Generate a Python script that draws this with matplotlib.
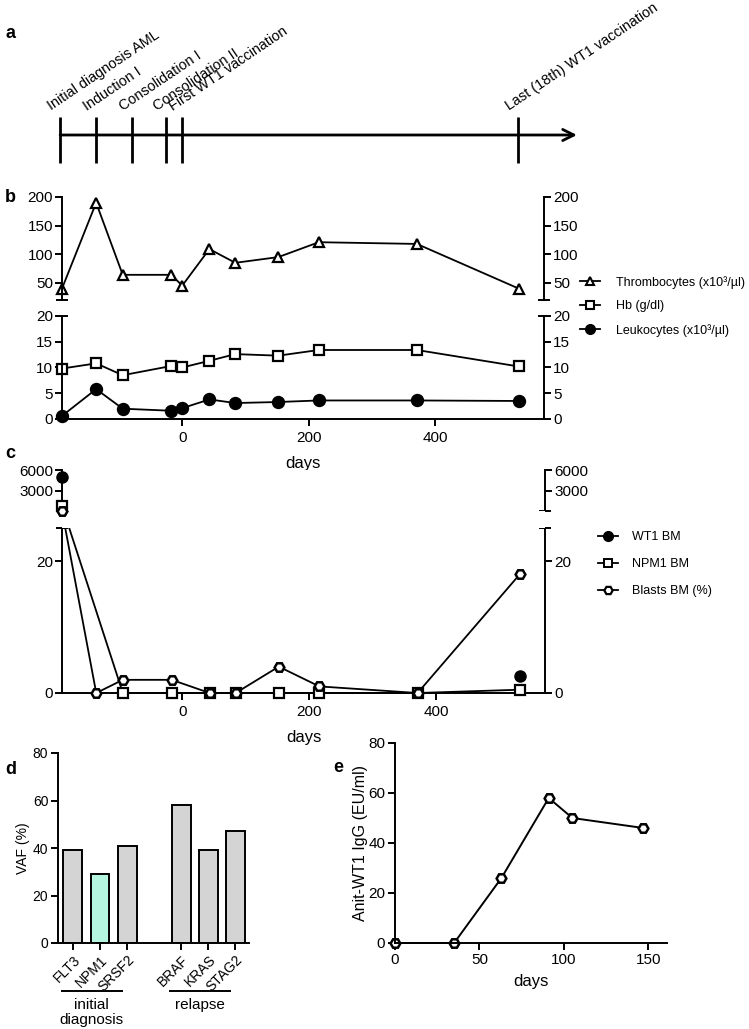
import numpy as np
import matplotlib
matplotlib.use('Agg')
import matplotlib.pyplot as plt
from matplotlib.lines import Line2D
import matplotlib.transforms as mtransforms

plt.rcParams['font.family'] = ['Liberation Sans', 'DejaVu Sans']

# ---------------- data ----------------
events = ["Initial diagnosis AML", "Induction I", "Consolidation I",
          "Consolidation II", "First WT1 vaccination", "Last (18th) WT1 vaccination"]
event_days = [-193, -136, -79, -25, 0, 531]

days_b = [-190, -136, -94, -17, 0, 43, 84, 152, 216, 371, 532]
thrombocytes = [40, 190, 64, 64, 45, 109, 85, 95, 121, 118, 40]
hb = [9.8, 10.8, 8.5, 10.3, 10.0, 11.3, 12.6, 12.3, 13.4, 13.4, 10.2]
leukocytes = [0.6, 5.8, 2.0, 1.6, 2.1, 3.8, 3.1, 3.3, 3.6, 3.6, 3.5]

wt1_days = [-190, 532]
wt1_bm = [5000, 2.6]
npm1_days = [-190, -94, -17, 43, 84, 152, 216, 371, 532]
npm1_bm = [800, 0, 0, 0, 0, 0, 0, 0, 0.5]
blasts_days = [-190, -136, -94, -17, 43, 84, 152, 216, 371, 532]
blasts_bm = [80, 0, 2, 2, 0, 0, 4, 1, 0, 18]

genes = ["FLT3", "NPM1", "SRSF2", "BRAF", "KRAS", "STAG2"]
gene_pos = [0, 1, 2, 4, 5, 6]
vaf = [39, 29, 41, 58, 39, 47]
groups = ["initial\ndiagnosis", "relapse"]

days_e = [0, 35, 63, 91, 105, 147]
igg = [0, 0, 26, 58, 50, 46]

# ---------------- layout helpers ----------------
W, H = 749, 1029
fig = plt.figure(figsize=(W / 100, H / 100), dpi=100)


def box(x0, y0, x1, y1):
    return [x0 / W, 1 - y1 / H, (x1 - x0) / W, (y1 - y0) / H]


LW = 1.4
XLIM = (-190, 572)
GREY = '#d4d4d4'
MINT = '#b4f6df'


def cap(ax, y, xs=(0, 1), half=0.013):
    for x in xs:
        ax.plot([x - half, x + half], [y, y], transform=ax.transAxes,
                color='k', lw=LW, clip_on=False, solid_capstyle='butt')


# ---------------- panel a ----------------
ax_a = fig.add_axes(box(62, 0, 544, 170))
ax_a.set_xlim(XLIM)
ax_a.set_ylim(170, 0)
ax_a.axis('off')
ax_a.annotate('', xy=(624, 135), xytext=(event_days[0], 135),
              arrowprops=dict(arrowstyle='->', lw=2, color='k',
                              mutation_scale=20, shrinkA=0, shrinkB=0),
              annotation_clip=False)
ax_a.vlines(event_days, 117, 163, lw=2, color='k', clip_on=False)
tr = mtransforms.offset_copy(ax_a.transData, fig=fig, x=-9, y=6, units='dots')
for d, lab in zip(event_days, events):
    ax_a.text(d, 117, lab, rotation=34, rotation_mode='anchor', ha='left',
              va='baseline', fontsize=10.4, transform=tr, clip_on=False)

# ---------------- panel b ----------------
ax_bt = fig.add_axes(box(62, 197, 544, 300))
ax_bb = fig.add_axes(box(62, 316, 544, 419))
for ax in (ax_bt, ax_bb):
    ax.set_xlim(XLIM)
    ax.spines['top'].set_visible(False)
    for s in ax.spines.values():
        s.set_linewidth(LW)
    ax.tick_params(axis='y', left=True, right=True, labelleft=True, labelright=True,
                   direction='out', length=5, width=LW, labelsize=11, pad=1.5)
    ax.tick_params(axis='x', direction='out', length=5, width=LW, labelsize=11)
ax_bt.spines['bottom'].set_visible(False)
ax_bt.tick_params(axis='x', bottom=False, labelbottom=False)
ax_bt.set_ylim(20, 200)
ax_bt.set_yticks([50, 100, 150, 200])
ax_bb.set_ylim(0, 20)
ax_bb.set_yticks([0, 5, 10, 15, 20])
ax_bb.set_xticks([0, 200, 400])
ax_bb.set_xlabel('days', fontsize=12, labelpad=8)
cap(ax_bt, 0)
cap(ax_bb, 1)

mk = dict(color='k', lw=1.3, markersize=7, markeredgewidth=1.6, clip_on=False)
ax_bt.plot(days_b, thrombocytes, marker='^', markerfacecolor='white', **mk)
ax_bb.plot(days_b, hb, marker='s', markerfacecolor='white', **mk)
ax_bb.plot(days_b, leukocytes, marker='o', markerfacecolor='black',
           **{**mk, 'markersize': 8})

h_b = [Line2D([], [], color='k', lw=1.3, marker='^', markerfacecolor='white', markersize=6, markeredgewidth=1.5),
       Line2D([], [], color='k', lw=1.3, marker='s', markerfacecolor='white', markersize=6, markeredgewidth=1.5),
       Line2D([], [], color='k', lw=1.3, marker='o', markerfacecolor='black', markersize=7)]
fig.legend(h_b, ["Thrombocytes (x10\u00b3/\u00b5l)", "Hb (g/dl)", "Leukocytes (x10\u00b3/\u00b5l)"],
           loc='upper left', bbox_to_anchor=(580 / W, 1 - 276 / H), frameon=False,
           fontsize=9, handlelength=1.6, handletextpad=1.3, labelspacing=0.92,
           borderaxespad=0, borderpad=0)

# ---------------- panel c (broken axis via function scale) ----------------
GAP = 2.6
TOPH = 6.25
YTOP = 6000.0


def fwd(y):
    y = np.asarray(y, dtype=float)
    return np.where(y <= 25, y, 25 + GAP + (y - 25) / (YTOP - 25) * TOPH)


def inv(u):
    u = np.asarray(u, dtype=float)
    return np.where(u <= 25, u,
                    np.where(u < 25 + GAP, 25.0, 25 + (u - 25 - GAP) / TOPH * (YTOP - 25)))


ax_c = fig.add_axes(box(62, 470, 545, 693))
ax_c.set_yscale('function', functions=(fwd, inv))
ax_c.set_xlim(XLIM)
ax_c.set_ylim(0, YTOP)
for s in ('top', 'left', 'right'):
    ax_c.spines[s].set_visible(False)
ax_c.spines['bottom'].set_linewidth(LW)
ax_c.set_yticks([0, 20, 3000, 6000])
ax_c.yaxis.set_minor_locator(matplotlib.ticker.NullLocator())
ax_c.tick_params(axis='y', left=True, right=True, labelleft=True, labelright=True,
                 direction='out', length=5, width=LW, labelsize=11, pad=1.5)
ax_c.tick_params(axis='x', direction='out', length=5, width=LW, labelsize=11)
ax_c.set_xticks([0, 200, 400])
ax_c.set_xlabel('days', fontsize=12, labelpad=8)
yt = ax_c.get_yaxis_transform()
EPS = 1e-6
for x in (0, 1):
    ax_c.plot([x, x], [0, 25], transform=yt, color='k', lw=LW, clip_on=False,
              solid_capstyle='projecting')
    ax_c.plot([x, x], [25 + EPS, YTOP], transform=yt, color='k', lw=LW, clip_on=False,
              solid_capstyle='projecting')
    for yy in (25, 25 + EPS):
        ax_c.plot([x - 0.013, x + 0.013], [yy, yy], transform=yt, color='k', lw=LW,
                  clip_on=False, solid_capstyle='butt')

ax_c.plot(npm1_days, npm1_bm, color='k', lw=1.3, zorder=2, clip_on=False)
ax_c.plot(blasts_days, blasts_bm, color='k', lw=1.3, zorder=2, clip_on=False)
ax_c.axhspan(25, 25 + EPS, color='white', zorder=2.5, lw=0)
ax_c.plot(wt1_days, wt1_bm, ls='none', marker='o', color='k', markersize=8,
          zorder=3, clip_on=False)
ax_c.plot(npm1_days, npm1_bm, ls='none', marker='s', color='k', markerfacecolor='white',
          markersize=7, markeredgewidth=1.6, zorder=3, clip_on=False)
ax_c.plot(blasts_days, blasts_bm, ls='none', marker='H', color='k', markerfacecolor='white',
          markersize=7, markeredgewidth=1.8, zorder=3.1, clip_on=False)

h_c = [Line2D([], [], color='k', lw=1.3, marker='o', markersize=7),
       Line2D([], [], color='k', lw=1.3, marker='s', markerfacecolor='white', markersize=6, markeredgewidth=1.4),
       Line2D([], [], color='k', lw=1.3, marker='H', markerfacecolor='white', markersize=6, markeredgewidth=1.6)]
fig.legend(h_c, ["WT1 BM", "NPM1 BM", "Blasts BM (%)"],
           loc='upper left', bbox_to_anchor=(598 / W, 1 - 531 / H), frameon=False,
           fontsize=9, handlelength=1.6, handletextpad=1.1, labelspacing=1.2,
           borderaxespad=0, borderpad=0)

# ---------------- panel d ----------------
ax_d = fig.add_axes(box(58, 753, 249, 943))
colors_d = [GREY, MINT, GREY, GREY, GREY, GREY]
ax_d.bar(gene_pos, vaf, width=0.7, color=colors_d, edgecolor='k', linewidth=1.4)
ax_d.set_xlim(-0.55, 6.5)
ax_d.set_ylim(0, 80)
ax_d.set_yticks([0, 20, 40, 60, 80])
ax_d.set_xticks(gene_pos)
ax_d.set_xticklabels(genes, rotation=45, ha='right', rotation_mode='anchor')
for s in ('top', 'right'):
    ax_d.spines[s].set_visible(False)
for s in ('left', 'bottom'):
    ax_d.spines[s].set_linewidth(LW)
ax_d.tick_params(direction='out', length=5, width=LW, labelsize=10, pad=2)
ax_d.set_ylabel('VAF (%)', fontsize=10, labelpad=2)
bt = ax_d.get_xaxis_transform()
for (g0, g1), lab in zip([(gene_pos[0], gene_pos[2]), (gene_pos[3], gene_pos[5])], groups):
    ax_d.plot([g0 - 0.4, g1 - 0.2], [-0.253, -0.253], transform=bt, color='k',
              lw=1.4, clip_on=False)
    ax_d.text((g0 + g1) / 2 - 0.3, -0.29, lab, transform=bt, ha='center', va='top',
              fontsize=11, linespacing=1.05)

# ---------------- panel e ----------------
ax_e = fig.add_axes(box(395, 743, 667, 943))
ax_e.plot(days_e, igg, color='k', lw=1.4, marker='H', markerfacecolor='white',
          markersize=7, markeredgewidth=1.8, clip_on=False)
ax_e.set_xlim(0, 161)
ax_e.set_ylim(0, 80)
ax_e.set_xticks([0, 50, 100, 150])
ax_e.set_yticks([0, 20, 40, 60, 80])
for s in ('top', 'right'):
    ax_e.spines[s].set_visible(False)
for s in ('left', 'bottom'):
    ax_e.spines[s].set_linewidth(LW)
ax_e.tick_params(direction='out', length=5, width=LW, labelsize=11, pad=2)
ax_e.set_xlabel('days', fontsize=12, labelpad=5)
ax_e.set_ylabel('Anit-WT1 IgG (EU/ml)', fontsize=11.5, labelpad=0)

# ---------------- panel letters ----------------
for lab, (x, y) in zip("abcde", [(5, 33), (5, 198), (5, 453), (5, 770), (333, 768)]):
    fig.text(x / W, 1 - y / H, lab, fontsize=13, fontweight='bold', va='center', ha='left')

fig.savefig('out.png', dpi=100)
